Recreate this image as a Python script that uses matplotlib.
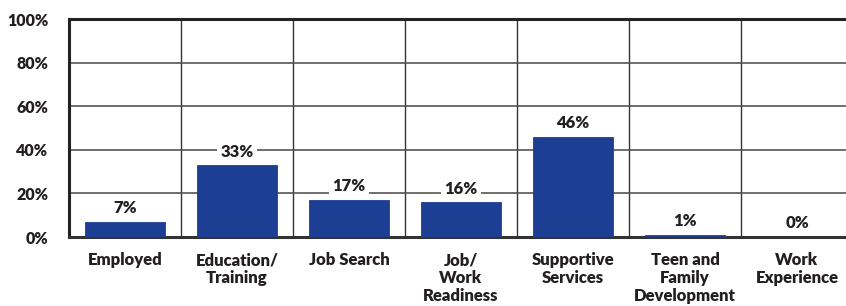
import matplotlib
matplotlib.use("Agg")
import matplotlib.pyplot as plt

categories = ["Employed", "Education/\nTraining", "Job Search", "Job/\nWork\nReadiness",
              "Supportive\nServices", "Teen and\nFamily\nDevelopment", "Work\nExperience"]
values = [7, 33, 17, 16, 46, 1, 0]
yticks = [0, 20, 40, 60, 80, 100]

plt.rcParams['font.family'] = ['Lato', 'DejaVu Sans']
txt = '#231f20'
fw = 'heavy'
fs = 12
fig = plt.figure(figsize=(8.46, 3.06), dpi=100)
ax = fig.add_axes([69/846, 69/306, 784/846, 218/306])

x = list(range(len(categories)))
ax.bar(x, values, width=0.72, color='#1c3f94', edgecolor='#1c3f94', linewidth=0.6, zorder=3)
ax.set_xlim(-0.5, len(categories) - 0.5)
ax.set_ylim(0, 100)

for xi, v in zip(x, values):
    ax.annotate(f"{v}%", (xi, v), xytext=(0, 4), textcoords='offset points',
                ha='center', va='bottom', fontsize=fs, fontweight=fw, color=txt,
                bbox=dict(boxstyle='square,pad=0.2', fc='white', ec='none'), zorder=4)

ax.set_yticks(yticks)
ax.set_yticklabels([f"{t}%" for t in yticks], fontsize=11.5, fontweight=fw, color=txt)
ax.set_xticks(x)
ax.set_xticklabels(categories, fontsize=fs, fontweight=fw, color=txt, linespacing=1.15, va='top')
ax.tick_params(axis='both', length=0)
ax.tick_params(axis='y', pad=15)
ax.tick_params(axis='x', pad=11)

for b in [i + 0.5 for i in range(len(categories))]:
    ax.axvline(b, color='#333333', lw=1.0, zorder=1)
for t in yticks[1:-1]:
    ax.axhline(t, color='#555555', lw=1.2, zorder=1)

for s in ['left', 'top', 'bottom']:
    ax.spines[s].set_linewidth(2.2)
    ax.spines[s].set_color('#222222')
ax.spines['right'].set_visible(False)
ax.spines['bottom'].set_color('#333333')

fig.savefig("out.png", dpi=100)
